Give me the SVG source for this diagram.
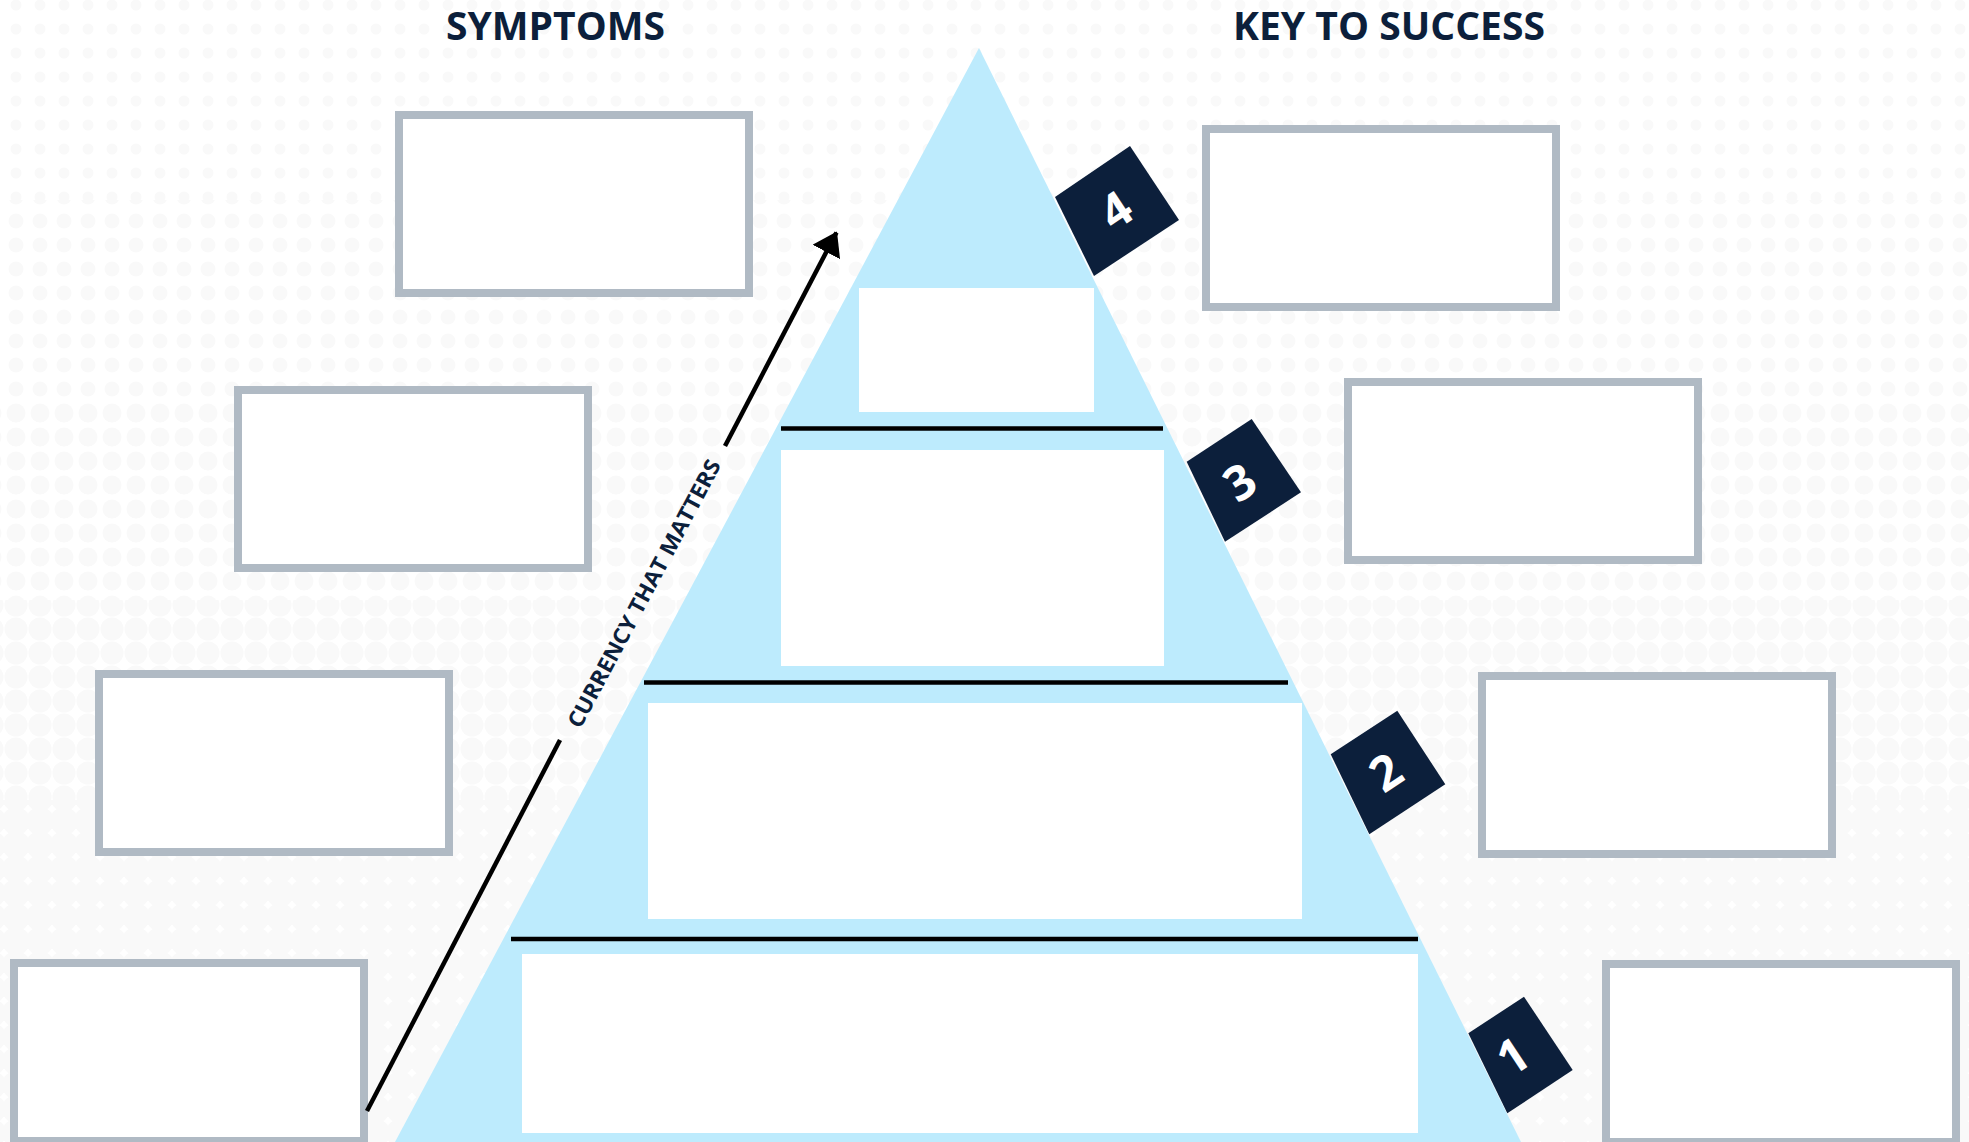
<svg xmlns="http://www.w3.org/2000/svg" width="1969" height="1142" viewBox="0 0 1969 1142">
  <defs>
    <pattern id="dots1" x="4" y="-7" width="24" height="24" patternUnits="userSpaceOnUse">
      <circle cx="12" cy="12" r="5.5" fill="#f9f9f9"/>
    </pattern>
    <pattern id="dots2" x="4" y="-7" width="24" height="24" patternUnits="userSpaceOnUse">
      <circle cx="12" cy="12" r="7.5" fill="#f9f9f9"/>
    </pattern>
    <pattern id="dots3" x="4" y="-7" width="24" height="24" patternUnits="userSpaceOnUse">
      <circle cx="12" cy="12" r="9.5" fill="#f9f9f9"/>
    </pattern>
    <pattern id="dots4" x="4" y="-7" width="24" height="24" patternUnits="userSpaceOnUse">
      <circle cx="12" cy="12" r="11.5" fill="#f9f9f9"/>
    </pattern>
    <pattern id="dots5" x="4" y="-7" width="24" height="24" patternUnits="userSpaceOnUse">
      <circle cx="12" cy="12" r="14" fill="#f9f9f9"/>
    </pattern>
    <marker id="arrowHead" viewBox="0 0 23 31" refX="22" refY="15.5" markerWidth="23" markerHeight="31" markerUnits="userSpaceOnUse" orient="auto">
      <path d="M0,0 L23,15.5 L0,31 Z" fill="#000"/>
    </marker>
    <style>
      .box { fill: #ffffff; stroke: #b0bac4; stroke-width: 8; }
      .tier { fill: #ffffff; }
      .divider { stroke: #000000; stroke-width: 4.5; }
      .badge { fill: #0c1f3b; }
      .num { fill: #ffffff; font-family: "Open Sans", "DejaVu Sans", sans-serif; font-weight: 700; font-size: 48px; text-anchor: middle; dominant-baseline: central; }
      .head { fill: #0c1f3b; font-family: "Open Sans", "Liberation Sans", sans-serif; font-weight: 700; font-size: 39px; text-anchor: middle; }
      .axis { stroke: #000000; stroke-width: 4.5; fill: none; stroke-linecap: butt; }
      .axisLabel { fill: #0c1f3b; font-family: "Open Sans", "Liberation Sans", sans-serif; font-weight: 700; font-size: 22px; text-anchor: middle; dominant-baseline: central; }
    </style>
  </defs>

  <!-- background -->
  <rect x="0" y="0" width="1969" height="1142" fill="#ffffff"/>
  <rect x="0" y="0" width="1969" height="200" fill="url(#dots1)"/>
  <rect x="0" y="200" width="1969" height="200" fill="url(#dots2)"/>
  <rect x="0" y="400" width="1969" height="200" fill="url(#dots3)"/>
  <rect x="0" y="600" width="1969" height="200" fill="url(#dots4)"/>
  <rect x="0" y="800" width="1969" height="342" fill="url(#dots5)"/>

  <!-- headings -->
  <text id="heading-symptoms" class="head" x="555.5" y="39.5" textLength="219" lengthAdjust="spacingAndGlyphs">SYMPTOMS</text>
  <text id="heading-key" class="head" x="1389" y="39.5" textLength="312" lengthAdjust="spacingAndGlyphs">KEY TO SUCCESS</text>

  <!-- badges (behind the pyramid edge) -->
  <g id="badge-4">
    <polygon class="badge" points="1130,146 1179,220 1094,276 1055,197"/>
    <text class="num" x="1115" y="209" transform="rotate(-33.5 1115 209)">4</text>
  </g>
  <g id="badge-3">
    <polygon class="badge" points="1251.7,419 1301,492.3 1225,541.7 1186.7,461.7"/>
    <text class="num" x="1239" y="481" transform="rotate(-33.5 1239 481)">3</text>
  </g>
  <g id="badge-2">
    <polygon class="badge" points="1397.3,710.7 1445.3,784.3 1369.3,834.3 1330.7,754.3"/>
    <text class="num" x="1385" y="771" transform="rotate(-33.5 1385 771)">2</text>
  </g>
  <g id="badge-1">
    <polygon class="badge" points="1524,996.7 1572.7,1070 1507.3,1113.3 1468.3,1033.3"/>
    <text class="num" x="1512" y="1055" transform="rotate(-33.5 1512 1055)">1</text>
  </g>

  <!-- pyramid -->
  <g id="pyramid">
    <polygon points="979,48 1521,1142 395,1142" fill="#bdebfd"/>
    <g id="tier-4"><rect class="tier" x="859" y="288" width="235" height="124"/></g>
    <line class="divider" x1="781" y1="428.5" x2="1163" y2="428.5"/>
    <g id="tier-3"><rect class="tier" x="781" y="450" width="383" height="216"/></g>
    <line class="divider" x1="644" y1="682.5" x2="1288" y2="682.5"/>
    <g id="tier-2"><rect class="tier" x="648" y="703" width="654" height="216"/></g>
    <line class="divider" x1="511" y1="939" x2="1418" y2="939"/>
    <g id="tier-1"><rect class="tier" x="522" y="954" width="896" height="179"/></g>
  </g>

  <!-- symptom boxes -->
  <g id="symptom-4"><rect class="box" x="399" y="115" width="350" height="178"/></g>
  <g id="symptom-3"><rect class="box" x="238" y="390" width="350" height="178"/></g>
  <g id="symptom-2"><rect class="box" x="99" y="674" width="350" height="178"/></g>
  <g id="symptom-1"><rect class="box" x="14" y="963" width="350" height="178"/></g>

  <!-- key to success boxes -->
  <g id="key-4"><rect class="box" x="1206" y="129" width="350" height="178"/></g>
  <g id="key-3"><rect class="box" x="1348" y="382" width="350" height="178"/></g>
  <g id="key-2"><rect class="box" x="1482" y="676" width="350" height="178"/></g>
  <g id="key-1"><rect class="box" x="1606" y="964" width="350" height="178"/></g>

  <!-- connectors -->
  <g id="connectors">
    <line class="axis" x1="367" y1="1111" x2="560" y2="740"/>
    <line class="axis" x1="725" y1="446" x2="836.5" y2="232.5" marker-end="url(#arrowHead)"/>
    <text class="axisLabel" x="643" y="593" transform="rotate(-61.9 643 593)" textLength="300" lengthAdjust="spacingAndGlyphs">CURRENCY THAT MATTERS</text>
  </g>
</svg>
